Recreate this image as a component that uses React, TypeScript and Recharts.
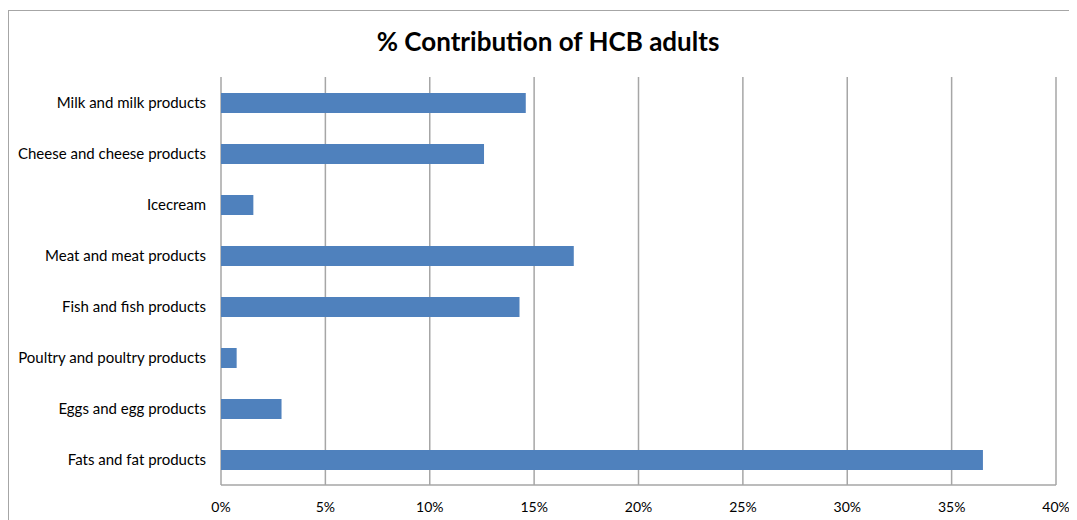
import { BarChart, Bar, XAxis, YAxis, CartesianGrid } from 'recharts';

const categories = [
  'Milk and milk products',
  'Cheese and cheese products',
  'Icecream',
  'Meat and meat products',
  'Fish and fish products',
  'Poultry and poultry products',
  'Eggs and egg products',
  'Fats and fat products',
];

const contribution = [14.6, 12.6, 1.55, 16.9, 14.3, 0.75, 2.9, 36.5];

const xTicks = [0, 5, 10, 15, 20, 25, 30, 35, 40];

const data = categories.map((name, i) => ({ name, value: contribution[i] }));

const font = 'Lato, "Noto Sans", sans-serif';

export default function App() {
  return (
    <div
      style={{
        position: 'relative',
        marginTop: 2,
        width: 1075,
        height: 520,
        borderTop: '1px solid #a6a6a6',
        borderLeft: '1px solid #a6a6a6',
        background: '#fff',
        fontFamily: font,
      }}
    >
      <div
        style={{
          position: 'absolute',
          left: 0,
          width: 1078,
          top: 14,
          textAlign: 'center',
          fontSize: 26,
          fontWeight: 'bold',
          color: '#000',
        }}
      >
        % Contribution of HCB adults
      </div>
      <BarChart
        width={1060}
        height={510}
        layout="vertical"
        data={data}
        margin={{ top: 66, right: 13, left: 0, bottom: 6 }}
        barSize={20}
      >
        <CartesianGrid horizontal={false} vertical={true} stroke="#a6a6a6" strokeWidth={1.5} />
        <XAxis
          type="number"
          domain={[0, 40]}
          ticks={xTicks}
          tickFormatter={(v) => `${v}%`}
          tickLine={false}
          tickMargin={11}
          axisLine={{ stroke: '#a6a6a6', strokeWidth: 1.5 }}
          height={30}
          tick={{ fontSize: 14, fill: '#000', fontFamily: font }}
          interval={0}
        />
        <YAxis
          type="category"
          dataKey="name"
          width={212}
          tickLine={false}
          axisLine={false}
          tickMargin={9}
          tick={{ fontSize: 15, fill: '#000', fontFamily: font }}
          interval={0}
        />
        <Bar dataKey="value" fill="#4f81bd" isAnimationActive={false} />
      </BarChart>
    </div>
  );
}
